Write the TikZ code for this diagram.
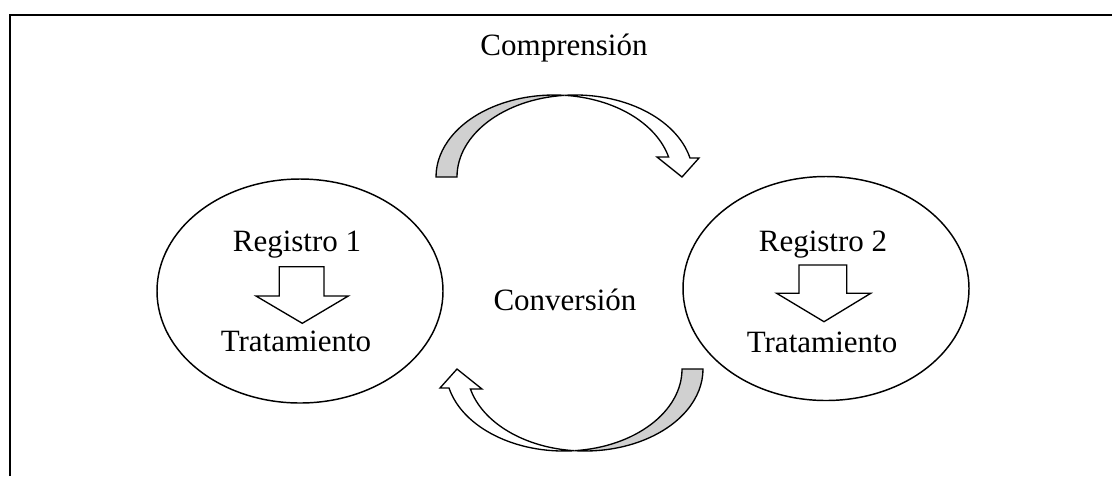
\documentclass[tikz,border=0pt]{standalone}
\usepackage{fontspec}
\setmainfont{Liberation Serif}
\usetikzlibrary{shapes.geometric}
\definecolor{bandgray}{RGB}{208,208,208}
\tikzset{every picture/.style={line width=0.75pt}}
\tikzset{
  etiqueta/.style={anchor=base,inner sep=0pt,font=\fontsize{23.25}{28}\selectfont},
  registro/.style={draw,ellipse,line width=1.1pt,minimum width=214.5pt,minimum height=168pt,inner sep=0pt},
  bajada/.style={draw,line width=1pt,line join=miter},
  banda/.style={draw,line width=1pt}
}
% curved block arrow (back band and front band with head)
\newcommand{\flechacurva}{%
  \filldraw [banda,fill=bandgray] (436,177) arc[start angle=180,end angle=275.1,x radius=118.1,y radius=82] arc[start angle=264.9,end angle=180,x radius=118.1,y radius=82] -- cycle;
  \filldraw [banda,fill=white] (564.6,95.3) arc[start angle=264.9,end angle=346.6,x radius=118.1,y radius=82] -- (699,158) -- (682,177) -- (657,157) -- (668.6,157) arc[start angle=345.9,end angle=275.1,x radius=118.1,y radius=82] -- cycle;
}

\begin{document}
\begin{tikzpicture}[x=0.75pt,y=0.75pt,yscale=-1,xscale=1]
	\useasboundingbox (0,0) rectangle (1112,476);
	
	%Frame
	\draw [line width=1.5pt] (9.7,476) -- (9.7,14.7) -- (1112,14.7) ;
	
	%Shape: Ellipse [id:reg1]
	\draw (300,291) node (circ1) [registro] {};
	%Shape: Ellipse [id:reg2]
	\draw (826,288.5) node (circ2) [registro] {};
	
	%Down Arrow [id:fl1]
	\draw [bajada] (279.3,266.7) -- (324,266.7) -- (324,296) -- (348.3,296) -- (302.3,323.3) -- (256,296) -- (279.3,296) -- cycle ;
	%Down Arrow [id:fl2]
	\draw [bajada] (799,265) -- (846.7,265) -- (846.7,293.3) -- (870.7,293.3) -- (824,321.7) -- (776.7,293.3) -- (799,293.3) -- cycle ;
	
	%Curved Arrows
	\flechacurva
	\begin{scope}[shift={(1139,546)},rotate=180]
		\flechacurva
	\end{scope}
	
	\draw (564,55) node (compr) [etiqueta] {Comprensión};
	\draw (565,310.7) node (conv) [etiqueta] {Conversión};
	\draw (297,251.7) node (reg1) [etiqueta] {Registro 1};
	\draw (296,351.7) node (trat1) [etiqueta] {Tratamiento};
	\draw (823,251) node (reg2) [etiqueta] {Registro 2};
	\draw (822,352.3) node (trat2) [etiqueta] {Tratamiento};
	
\end{tikzpicture}
\end{document}
